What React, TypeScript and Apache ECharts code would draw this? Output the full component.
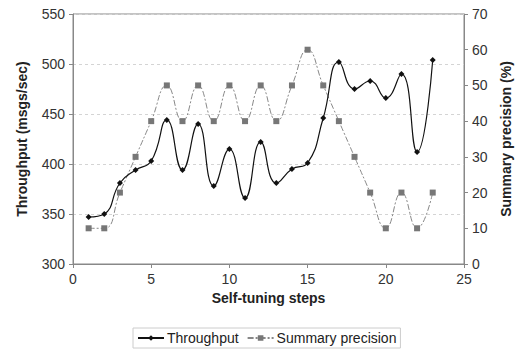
import React, { useEffect, useRef } from "react";
import * as echarts from "echarts";

const steps = [1, 2, 3, 4, 5, 6, 7, 8, 9, 10, 11, 12, 13, 14, 15, 16, 17, 18, 19, 20, 21, 22, 23];
const throughput = [347, 350, 381, 394, 403, 444, 394, 440, 378, 415, 366, 422, 381, 395, 401, 446, 502, 475, 483, 466, 490, 412, 504];
const precision = [10, 10, 20, 30, 40, 50, 40, 50, 40, 50, 40, 50, 40, 50, 60, 50, 40, 30, 20, 10, 20, 10, 20];
const xTicks = { min: 0, max: 25, interval: 5 };
const leftTicks = { min: 300, max: 550, interval: 50 };
const rightTicks = { min: 0, max: 70, interval: 10 };

const FONT = "Liberation Sans, Arial, sans-serif";

export default function App() {
  const ref = useRef<HTMLDivElement>(null);
  useEffect(() => {
    if (!ref.current) return;
    const chart = echarts.init(ref.current, undefined, { renderer: "svg" });
    const axisLine = { show: true, lineStyle: { color: "#888", width: 1 } };
    const axisLabel = { color: "#333", fontSize: 14, fontFamily: FONT };
    const nameStyle = { color: "#222", fontSize: 14, fontWeight: "bold" as const, fontFamily: FONT };
    chart.setOption({
      animation: false,
      backgroundColor: "#fff",
      textStyle: { fontFamily: FONT },
      grid: {
        left: 73, right: 52, top: 14, bottom: 85,
        show: true, borderColor: "#888", borderWidth: 1,
        outerBoundsMode: "none", containLabel: false,
      },
      xAxis: {
        type: "value",
        ...xTicks,
        name: "Self-tuning steps",
        nameLocation: "middle",
        nameGap: 27,
        nameTextStyle: nameStyle,
        axisLine,
        axisTick: { show: true, length: 4, lineStyle: { color: "#888" } },
        axisLabel: { ...axisLabel, margin: 8 },
        splitLine: { show: false },
      },
      yAxis: [
        {
          type: "value",
          ...leftTicks,
          name: "Throughput (msgs/sec)",
          nameLocation: "middle",
          nameGap: 44,
          nameTextStyle: nameStyle,
          axisLine,
          axisTick: { show: true, length: 4, lineStyle: { color: "#888" } },
          axisLabel: { ...axisLabel, margin: 8 },
          splitLine: { show: true, lineStyle: { color: "#d4d4d4", type: [3, 3] } },
        },
        {
          type: "value",
          position: "right",
          ...rightTicks,
          name: "Summary precision (%)",
          nameLocation: "middle",
          nameGap: 35,
          nameTextStyle: nameStyle,
          axisLine,
          axisTick: { show: true, length: 4, lineStyle: { color: "#888" } },
          axisLabel: { ...axisLabel, margin: 8 },
          splitLine: { show: false },
        },
      ],
      legend: {
        bottom: 1,
        left: 133,
        borderColor: "#ccc",
        borderWidth: 1,
        borderRadius: 0,
        padding: [3, 4],
        itemGap: 8,
        itemWidth: 26,
        itemHeight: 7,
        textStyle: { color: "#222", fontSize: 14, fontFamily: FONT, padding: [0, 0, 0, -2] },
        data: ["Throughput", "Summary precision"],
      },
      series: [
        {
          name: "Throughput",
          type: "line",
          yAxisIndex: 0,
          smooth: 0.5,
          symbol: "diamond",
          symbolSize: 6,
          data: steps.map((s, i) => [s, throughput[i]]),
          lineStyle: { color: "#111", width: 1.2 },
          itemStyle: { color: "#111" },
          z: 3,
        },
        {
          name: "Summary precision",
          type: "line",
          yAxisIndex: 1,
          smooth: 0.5,
          symbol: "rect",
          symbolSize: 6,
          data: steps.map((s, i) => [s, precision[i]]),
          lineStyle: { color: "#888", width: 1, type: [6, 2, 2, 2] },
          itemStyle: { color: "#777" },
          z: 2,
        },
      ],
    });
    return () => chart.dispose();
  }, []);
  return <div ref={ref} style={{ position: "fixed", left: 0, top: 0, width: 516, height: 349 }} />;
}
